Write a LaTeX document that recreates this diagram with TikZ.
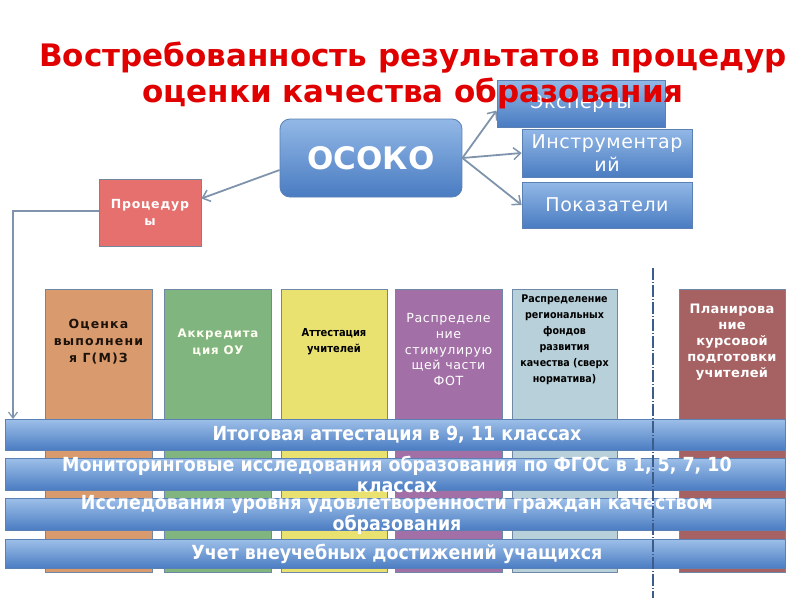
\documentclass[tikz,border=0pt]{standalone}
\usepackage{fontspec}
\setmainfont{DejaVu Sans}
\newfontfamily\cond{DejaVu Sans Condensed}
\usetikzlibrary{arrows.meta}
\definecolor{ttlred}{HTML}{E00000}
\definecolor{bluetop}{HTML}{92B8E6}
\definecolor{bluebot}{HTML}{4A7CC2}
\definecolor{blueedge}{HTML}{5A80B4}
\definecolor{arrowgray}{HTML}{7F94AC}
\definecolor{colA}{HTML}{D99A6E}
\definecolor{colB}{HTML}{80B57F}
\definecolor{colC}{HTML}{E9E271}
\definecolor{colD}{HTML}{A270A6}
\definecolor{colE}{HTML}{B8D0DA}
\definecolor{colF}{HTML}{A66262}
\definecolor{colEdge}{HTML}{6F88A6}
\definecolor{procred}{HTML}{E5706E}
\definecolor{dashblue}{HTML}{3C5C8C}
\tikzset{
  bluebox/.style={draw=blueedge, line width=0.8pt, top color=bluetop, bottom color=bluebot, text=white, align=center, inner sep=2pt},
  colbox/.style={draw=colEdge, line width=0.8pt, anchor=north west, minimum width=107pt, minimum height=283pt},
  bar/.style={draw=blueedge, line width=0.8pt, top color=bluetop!90!white, bottom color=bluebot, minimum width=780pt, anchor=north west},
  bartext/.style={text=white, align=center, font=\cond\bfseries\fontsize{19.4}{21}\selectfont},
  arr/.style={draw=arrowgray, line width=1.8pt, -{Straight Barb[length=7pt,width=12pt,line width=1.5pt]}},
  coltext/.style={align=center, inner sep=0pt}
}
\begin{document}
\begin{tikzpicture}[x=1pt,y=-1pt]
\useasboundingbox[fill=white] (0,0) rectangle (800,600);

% right-hand blue boxes
\node[bluebox, minimum width=168pt, minimum height=47pt, font=\addfontfeatures{LetterSpace=3}\fontsize{19}{19}\selectfont] (exp) at (581,103.5) {Эксперты};
\node[bluebox, minimum width=170pt, minimum height=48pt, font=\addfontfeatures{LetterSpace=3}\fontsize{19}{23}\selectfont] (ins) at (607,153) {Инструментар\\ий};
\node[bluebox, minimum width=170pt, minimum height=46pt, font=\addfontfeatures{LetterSpace=3}\fontsize{19}{19}\selectfont] (pok) at (607,205) {Показатели};

% title
\node[text=ttlred, align=center, font=\bfseries\fontsize{31}{36}\selectfont] (title) at (413,75) {Востребованность результатов процедур\\оценки качества образования};

% OSOKO
\node[bluebox, rounded corners=10pt, minimum width=182pt, minimum height=78pt, font=\bfseries\fontsize{31}{36}\selectfont] (osoko) at (371,158) {ОСОКО};

% Procedury
\node[draw=colEdge!80!gray, line width=0.8pt, fill=procred, minimum width=102pt, minimum height=67pt, text=white, align=center, font=\bfseries\addfontfeatures{LetterSpace=6}\fontsize{12.5}{17}\selectfont] (proc) at (150,212.5) {Процедур\\ы};

% arrows from OSOKO
\draw[arr] (osoko.east) -- ([yshift=-7pt]exp.west);
\draw[arr] (osoko.east) -- (ins.west);
\draw[arr] (osoko.east) -- (pok.west);
\draw[arr] ([yshift=-12pt]osoko.west) -- ([yshift=14pt]proc.east);

% columns
\node[colbox, fill=colA] (c1) at (45,289) {};
\node[colbox, fill=colB] (c2) at (164,289) {};
\node[colbox, fill=colC, minimum width=106pt] (c3) at (281,289) {};
\node[colbox, fill=colD] (c4) at (395,289) {};
\node[colbox, fill=colE, minimum width=105pt] (c5) at (512,289) {};
\node[colbox, fill=colF, minimum width=106pt] (c6) at (679,289) {};

\node[coltext, text=black!85!brown, font=\bfseries\addfontfeatures{LetterSpace=9}\fontsize{12.5}{17}\selectfont] (t1) at (98.5,342) {Оценка\\выполнени\\я Г(М)З};
\node[coltext, text=white!95!yellow, font=\bfseries\addfontfeatures{LetterSpace=7}\fontsize{11.8}{17}\selectfont] (t2) at (218,342.5) {Аккредита\\ция ОУ};
\node[coltext, text=black, font=\cond\bfseries\fontsize{11}{16}\selectfont] (t3) at (334,342) {Аттестация\\учителей};
\node[coltext, text=white, font=\addfontfeatures{LetterSpace=5}\fontsize{12.6}{15.8}\selectfont] (t4) at (448.5,349.5) {Распределе\\ние\\стимулирую\\щей части\\ФОТ};
\node[coltext, text=black, font=\cond\bfseries\fontsize{10.6}{16}\selectfont] (t5) at (564.5,340) {Распределение\\региональных\\фондов\\развития\\качества (сверх\\норматива)};
\node[coltext, text=white, font=\bfseries\addfontfeatures{LetterSpace=2}\fontsize{13}{16}\selectfont] (t6) at (732,342) {Планирова\\ние\\курсовой\\подготовки\\учителей};

% bars
\node[bar, minimum height=31pt] (b1) at (5,419) {};
\node[bar, minimum height=32pt] (b2) at (5,458) {};
\node[bar, minimum height=32pt] (b3) at (5,498) {};
\node[bar, minimum height=29pt] (b4) at (5,539) {};
\node[bartext] (bt1) at (397,435) {Итоговая аттестация в 9, 11 классах};
\node[bartext] (bt2) at (397,474.5) {Мониторинговые исследования образования по ФГОС в 1, 5, 7, 10\\классах};
\node[bartext] (bt3) at (397,514.5) {Исследования уровня удовлетворенности граждан качеством\\образования};
\node[bartext] (bt4) at (397,553.5) {Учет внеучебных достижений учащихся};

% left connector
\coordinate (lc) at (13,211);
\draw[draw=arrowgray, line width=1.5pt, -{Straight Barb[length=6pt,width=9pt,line width=1.2pt]}] (proc.west |- lc) -- (lc) -- (lc |- b1.north);

% dashed divider
\coordinate (d1) at (653,268);
\coordinate (d2) at (653,598);
\draw[dashblue, line width=1.3pt, dash pattern=on 12pt off 2pt on 1pt off 2pt] (d1) -- (d2);
\end{tikzpicture}
\end{document}
